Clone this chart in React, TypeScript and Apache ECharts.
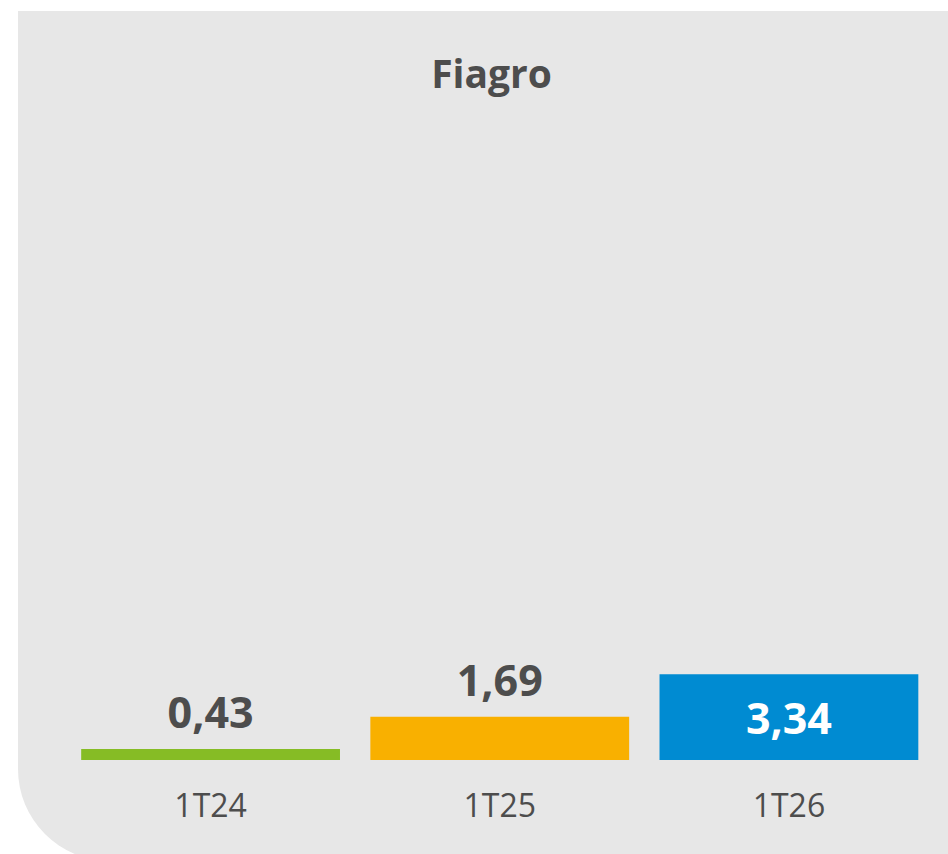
import React, { useEffect, useRef } from "react";
import * as echarts from "echarts";

const categories = ["1T24", "1T25", "1T26"];
const values = [0.43, 1.69, 3.34];
const barColors = ["#86bc25", "#f9b000", "#008bd2"];
const title = "Fiagro";

const FONT = "'Open Sans', 'Noto Sans', sans-serif";
const TEXT = "#4d4d4d";

export default function App() {
  const ref = useRef<HTMLDivElement>(null);
  useEffect(() => {
    if (!ref.current) return;
    const chart = echarts.init(ref.current, undefined, { renderer: "svg" });
    const fmt = (v: number) => v.toFixed(2).replace(".", ",");
    chart.setOption({
      animation: false,
      backgroundColor: "#ffffff",
      graphic: [
        {
          type: "rect",
          z: -10,
          silent: true,
          shape: { x: 18, y: 11, width: 940, height: 850, r: [0, 0, 0, 92] },
          style: { fill: "#e7e7e7" },
        },
        {
          type: "text",
          x: 491.5,
          y: 72,
          silent: true,
          style: {
            text: title,
            align: "center",
            verticalAlign: "middle",
            fontFamily: FONT,
            fontSize: 39,
            fontWeight: "bold",
            fill: TEXT,
          },
        },
      ],
      grid: { left: 66, right: 14.5, bottom: 94, top: 247 },
      xAxis: {
        type: "category",
        data: categories,
        axisLine: { show: false },
        axisTick: { show: false },
        axisLabel: { fontFamily: FONT, fontSize: 32, color: TEXT, margin: 28 },
      },
      yAxis: { type: "value", min: 0, max: 20, show: false, splitLine: { show: false } },
      series: [
        {
          type: "bar",
          barCategoryGap: "10.5%",
          data: values.map((v, i) => {
            const last = i === values.length - 1;
            return {
              value: v,
              itemStyle: { color: barColors[i] },
              label: last
                ? { position: "inside", color: "#ffffff" }
                : { position: "top", color: TEXT, distance: 16 },
            };
          }),
          label: {
            show: true,
            fontFamily: FONT,
            fontSize: 43,
            fontWeight: "bold",
            formatter: (p: any) => fmt(p.value),
          },
        },
      ],
    });
    return () => chart.dispose();
  }, []);
  return (
    <div
      ref={ref}
      style={{ position: "fixed", left: 0, top: 0, width: 948, height: 854 }}
    />
  );
}
